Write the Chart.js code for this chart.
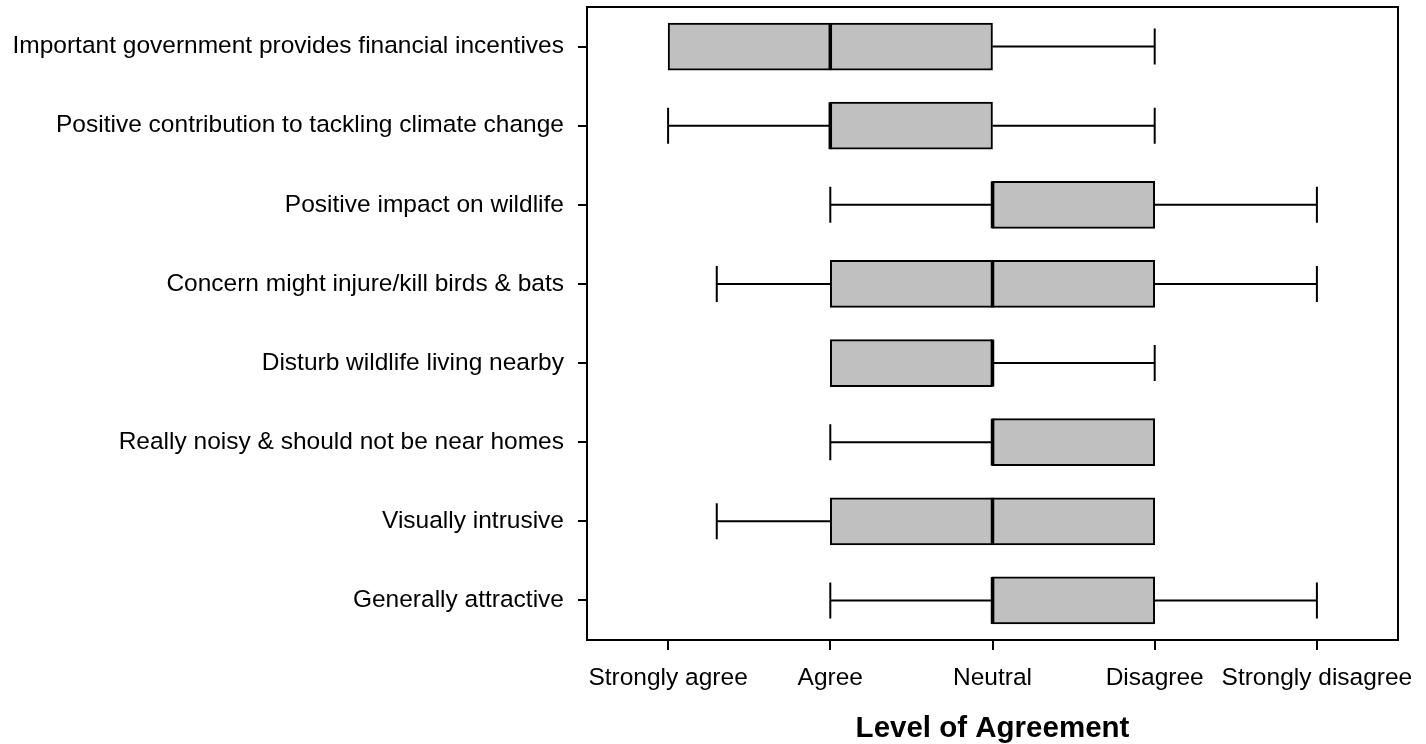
<!DOCTYPE html>
<html>
<head>
  <title>Level of Agreement</title>
  <script src="https://cdn.jsdelivr.net/npm/chart.js@4.4.0/dist/chart.umd.min.js"></script>
  <style>
    body { margin: 0; background: #fff; }
    #wrap { width: 1426px; height: 744px; }
  </style>
</head>
<body>
  <div id="wrap"><canvas id="myChart"></canvas></div>
  <script>
    var statements = [
      'Important government provides financial incentives',
      'Positive contribution to tackling climate change',
      'Positive impact on wildlife',
      'Concern might injure/kill birds & bats',
      'Disturb wildlife living nearby',
      'Really noisy & should not be near homes',
      'Visually intrusive',
      'Generally attractive'
    ];
    var whiskerLow  = [1, 1, 2, 1.3, 2, 2, 1.3, 2];
    var q1          = [1, 2, 3, 2,   2, 3, 2,   3];
    var median      = [2, 2, 3, 3,   3, 3, 3,   3];
    var q3          = [3, 3, 4, 4,   3, 4, 4,   4];
    var whiskerHigh = [4, 4, 5, 5,   4, 4, 4,   5];

    var tickValues = [1, 2, 3, 4, 5];
    var tickLabels = ['Strongly agree', 'Agree', 'Neutral', 'Disagree', 'Strongly disagree'];

    var fontFamily = '"Liberation Sans", Arial, sans-serif';

    // whiskers, caps, medians and the frame, all placed through the scales
    var boxExtras = {
      id: 'boxExtras',
      afterDatasetsDraw: function(chart) {
        var ctx = chart.ctx;
        var x = chart.scales.x, y = chart.scales.y;
        var capHalf = 18, boxHalf = 23.5;
        ctx.save();
        ctx.strokeStyle = '#000';
        statements.forEach(function(s, i) {
          var yc = y.getPixelForValue(i);
          ctx.lineWidth = 2;
          if (whiskerLow[i] < q1[i]) {
            var a = x.getPixelForValue(whiskerLow[i]), b = x.getPixelForValue(q1[i]);
            ctx.beginPath();
            ctx.moveTo(a, yc); ctx.lineTo(b, yc);
            ctx.moveTo(a, yc - capHalf); ctx.lineTo(a, yc + capHalf);
            ctx.stroke();
          }
          if (whiskerHigh[i] > q3[i]) {
            var c = x.getPixelForValue(q3[i]), d = x.getPixelForValue(whiskerHigh[i]);
            ctx.beginPath();
            ctx.moveTo(c, yc); ctx.lineTo(d, yc);
            ctx.moveTo(d, yc - capHalf); ctx.lineTo(d, yc + capHalf);
            ctx.stroke();
          }
          var m = x.getPixelForValue(median[i]);
          ctx.lineWidth = 3.5;
          ctx.beginPath();
          ctx.moveTo(m, yc - boxHalf); ctx.lineTo(m, yc + boxHalf);
          ctx.stroke();
        });
        var area = chart.chartArea;
        ctx.lineWidth = 2;
        ctx.strokeRect(area.left, area.top, area.right - area.left, area.bottom - area.top);
        ctx.restore();
      }
    };

    var ctx = document.getElementById('myChart').getContext('2d');
    var myChart = new Chart(ctx, {
      type: 'bar',
      data: {
        labels: statements,
        datasets: [{
          data: q1.map(function(v, i) { return [v, q3[i]]; }),
          backgroundColor: '#c0c0c0',
          borderColor: '#000',
          borderWidth: 2,
          borderSkipped: false,
          barThickness: 47
        }]
      },
      options: {
        indexAxis: 'y',
        responsive: true,
        maintainAspectRatio: false,
        animation: false,
        layout: { padding: { top: 7, right: 28, left: 0, bottom: 0 } },
        plugins: { legend: { display: false }, tooltip: { enabled: false } },
        scales: {
          x: {
            type: 'linear',
            min: 0.5,
            max: 5.5,
            afterBuildTicks: function(scale) {
              scale.ticks = tickValues.map(function(v) { return { value: v }; });
            },
            afterFit: function(scale) {
              scale.height = 104;
              scale.paddingLeft = 0;
              scale.paddingRight = 0;
            },
            ticks: {
              color: '#000',
              font: { family: fontFamily, size: 24.5 },
              padding: 14,
              maxRotation: 0,
              callback: function(value) {
                var k = tickValues.indexOf(value);
                return k >= 0 ? tickLabels[k] : '';
              }
            },
            grid: { drawOnChartArea: false, drawTicks: true, tickLength: 10, color: '#000', lineWidth: 2 },
            border: { display: false },
            title: {
              display: true,
              text: 'Level of Agreement',
              color: '#000',
              font: { family: fontFamily, size: 29.5, weight: 'bold', lineHeight: 1 },
              padding: { top: 0, bottom: 0 }
            }
          },
          y: {
            type: 'category',
            afterFit: function(scale) {
              scale.width = 587;
              scale.paddingTop = 0;
              scale.paddingBottom = 0;
            },
            ticks: {
              color: '#000',
              font: { family: fontFamily, size: 24.5 },
              padding: 14
            },
            grid: { offset: false, drawOnChartArea: false, drawTicks: true, tickLength: 9, color: '#000', lineWidth: 2 },
            border: { display: false }
          }
        }
      },
      plugins: [boxExtras]
    });
  </script>
</body>
</html>
